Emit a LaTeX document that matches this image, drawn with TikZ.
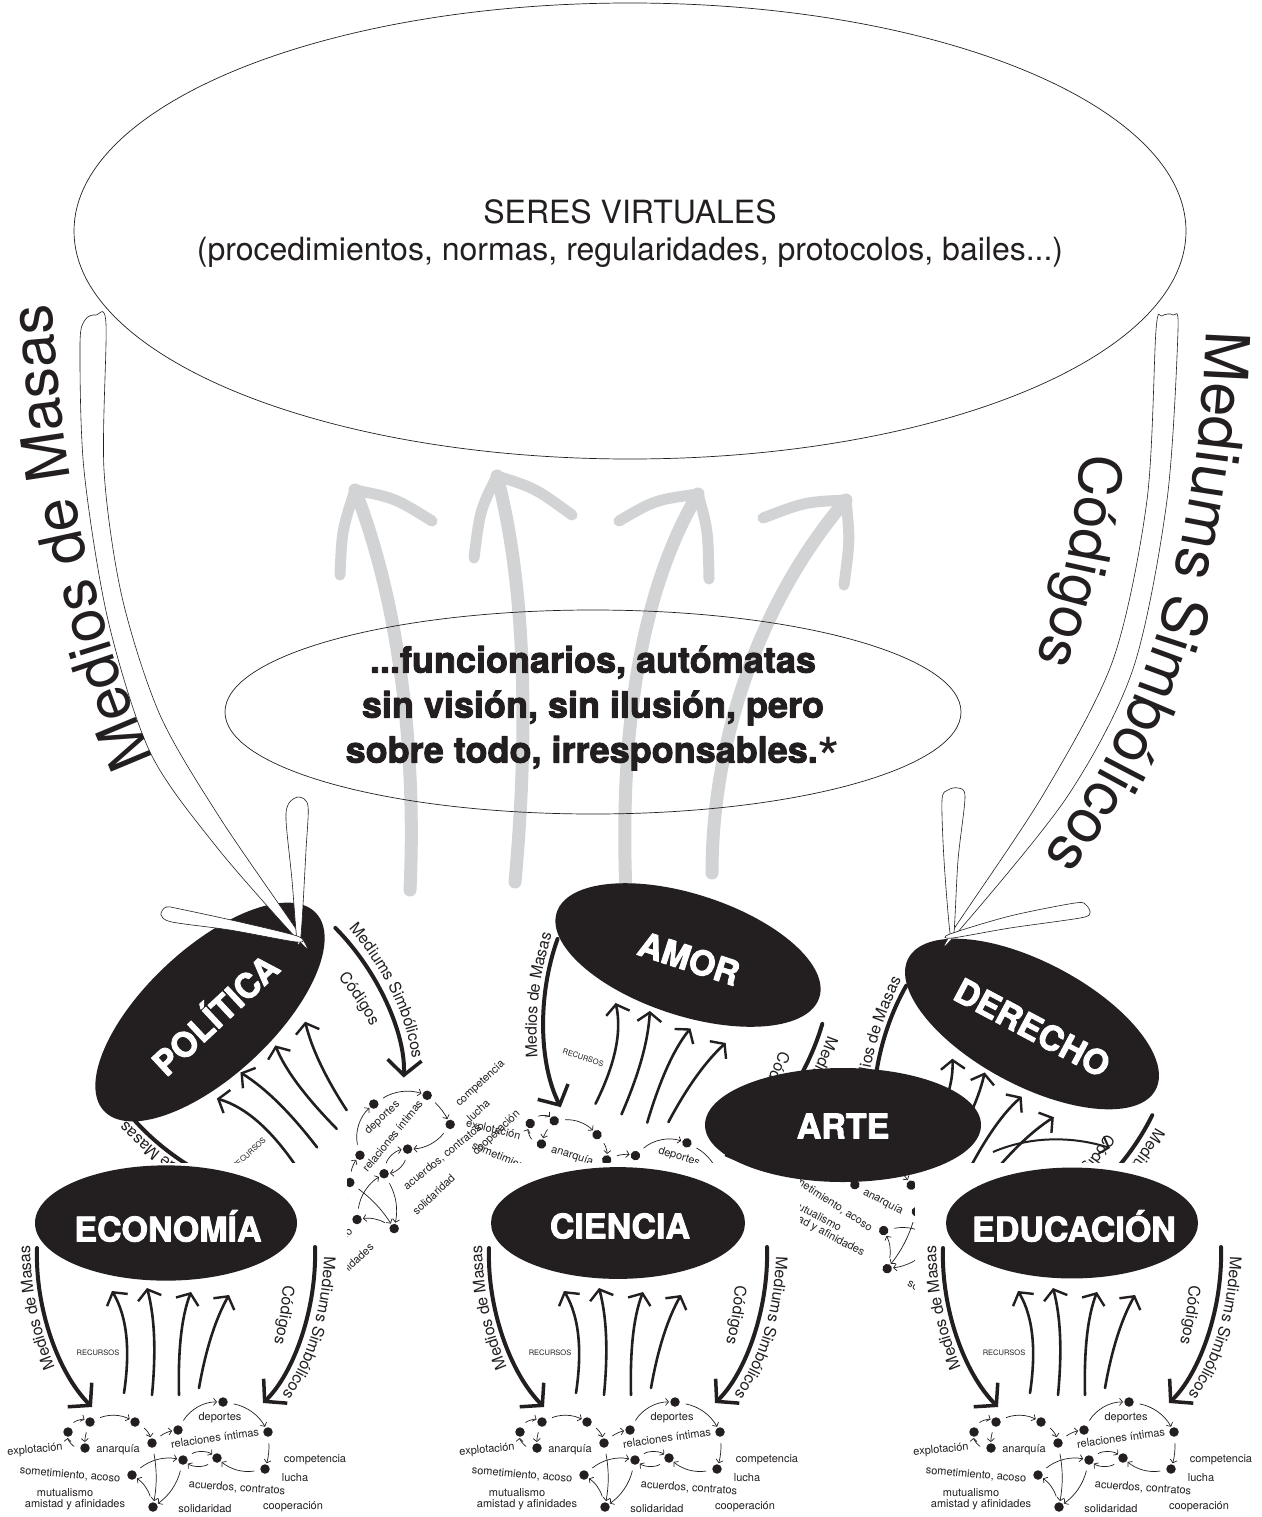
\documentclass[tikz,border=0pt]{standalone}
\usepackage{fontspec}
\setmainfont{TeX Gyre Heros}
\newfontfamily\negrita{texgyreheros-bold.otf}[FakeBold=2.5]
\usetikzlibrary{arrows.meta, decorations.text}

\definecolor{negro}{RGB}{35,31,32}
\definecolor{grisflecha}{RGB}{209,211,212}

\tikzset{
  punto/.style={circle, fill=negro, inner sep=0pt, minimum size=9.5pt},
  etiq/.style={font=\fontsize{11}{11}\selectfont, text=negro, inner sep=0pt},
  titulo/.style={font=\negrita\fontsize{34}{34}\selectfont, text=white, inner sep=0pt},
  flechita/.style={draw=negro, line width=0.7pt, -{Straight Barb[length=3pt,width=7pt]}, shorten >=6pt, shorten <=6pt},
  gruesa/.style={draw=negro, line width=4pt, line cap=round, -{Straight Barb[length=15pt,width=34pt,line width=3.5pt]}},
  subida/.style={draw=negro, line width=2.6pt, line cap=round, -{Straight Barb[length=9pt,width=24pt,line width=2.4pt]}},
  gris/.style={draw=grisflecha, line width=13pt, line cap=round},
  contorno/.style={draw=negro, fill=white, line width=0.6pt},
  sobre/.style 2 args={decorate, decoration={text along path, text align=center,
      text={|\fontsize{#1}{#1}\selectfont\color{negro}|#2}}},
  pics/modulo/.style n args={2}{code={
    \fill[negro] (0,0) ellipse [x radius=#2, y radius=0.44*#2];
    \node[titulo] (-nombre) at (2,3) {#1};
    % medios de masas y mediums
    \coordinate (-m1) at (-129,25); \coordinate (-m2) at (-74,184);
    \coordinate (-s1) at (149,24);  \coordinate (-s2) at (97,180);
    \draw[gruesa] (-m1) .. controls (-131,85) and (-108,150) .. (-m2);
    \draw[gruesa] (-s1) .. controls (151,85) and (128,150) .. (-s2);
    \path[sobre={16}{Medios de Masas}] (-104,160) .. controls (-128,110) and (-137,60) .. (-136,5);
    \path[sobre={16}{Mediums Simbólicos}] (158,18) .. controls (160,85) and (138,150) .. (106,184);
    \path[sobre={16}{Códigos}] (117,50) .. controls (117,85) and (112,110) .. (104,132);
    \node[font=\fontsize{7.5}{7.5}\selectfont, text=negro, inner sep=0pt] (-recursos) at (-68,130) {RECURSOS};
    % recursos hacia arriba
    \foreach \xa/\ya/\xb/\yb/\xc/\yc/\xd/\yd in {-42/170/-36/130/-38/95/-54/68, -14/172/-10/130/-11/95/-19/65, 13/172/12/130/15/95/25/69, 33/165/40/125/50/95/63/72}
      \draw[subida] (\xa,\ya) .. controls (\xb,\yb) and (\xc,\yc) .. (\xd,\yd);
    % relaciones
    \foreach \n/\x/\y in {1/-98/209, 2/-76/199, 3/-31/199, 4/-81/225, 5/-14/220, 6/12/207, 7/57/179, 8/102/209, 9/17/237, 10/51/235, 11/99/246, 12/-34/252, 13/-13/284}
      \node[punto] (-d\n) at (\x,\y) {};
    \draw[flechita] (-d1) to[bend left=40] (-d2);
    \draw[flechita] (-d2) to[bend left=25] (-d3);
    \draw[flechita] (-d2) to[bend right=10] (-d4);
    \draw[flechita] (-d4) to[bend left=40] (-d1);
    \draw[flechita] (-d3) to[bend left=20] (-d5);
    \draw[flechita] (-d5) to[bend left=15] (-d6);
    \draw[flechita] (-d6) to[bend left=30] (-d7);
    \draw[flechita] (-d7) to[bend left=25] (-d8);
    \draw[flechita] (-d8) to[bend left=10] (-d11);
    \draw[flechita] (-d11) to[bend left=25] (-d10);
    \draw[flechita] (-d9) to[bend left=35] (-d10);
    \draw[flechita] (-d10) to[bend left=35] (-d9);
    \draw[flechita] (-d12) to[bend left=25] (-d9);
    \draw[flechita] (-d5) to[bend left=10] (-d13);
    \draw[flechita] (-d9) to[bend left=20] (-d13);
    \draw[flechita] (-d13) to[bend right=20] (-d12);
    \node[etiq, rotate=5] (-explotacion) at (-131,227) {explotación};
    \node[etiq] (-anarquia) at (-48,227) {anarquía};
    \node[etiq] (-deportes) at (54,195) {deportes};
    \node[etiq, rotate=8] (-intimas) at (49,215) {relaciones íntimas};
    \node[etiq] (-competencia) at (149,237) {competencia};
    \node[etiq] (-lucha) at (129,255) {lucha};
    \node[etiq, rotate=-5] (-acoso) at (-96,252) {sometimiento, acoso};
    \node[etiq] (-mutualismo) at (-101,270) {mutualismo};
    \node[etiq] (-amistad) at (-91,282) {amistad y afinidades};
    \node[etiq, rotate=-4] (-acuerdos) at (71,265) {acuerdos, contratos};
    \node[etiq] (-solidaridad) at (39,286) {solidaridad};
    \node[etiq] (-cooperacion) at (127,284) {cooperación};
  }}
}

\begin{document}
\begin{tikzpicture}[x=1pt, y=-1pt, line join=round]
\useasboundingbox (0,0) rectangle (1261,1517);
\fill[white] (0,0) rectangle (1261,1517);

% seres virtuales
\draw[negro, line width=0.7pt] (630,231) ellipse [x radius=556, y radius=228];
\node[font=\fontsize{32}{37}\selectfont, text=negro, align=center] (seres) at (630,234)
  {SERES VIRTUALES\\(procedimientos, normas, regularidades, protocolos, bailes...)};

% flechas grises
\coordinate (g1a) at (410,890); \coordinate (g1b) at (355,490);
\coordinate (g2a) at (515,882); \coordinate (g2b) at (497,476);
\coordinate (g3a) at (626,893); \coordinate (g3b) at (698,494);
\coordinate (g4a) at (712,873); \coordinate (g4b) at (846,500);
\draw[gris] (g1a) .. controls (416,760) and (402,610) .. (g1b);
\draw[gris, line width=11pt] (340,575) .. controls (342,530) .. (g1b) .. controls (395,498) .. (432,521);
\draw[gris] (g2a) .. controls (528,740) and (527,590) .. (g2b);
\draw[gris, line width=11pt] (474,558) .. controls (480,510) .. (g2b) .. controls (535,488) .. (572,515);
\draw[gris] (g3a) .. controls (620,750) and (635,600) .. (g3b);
\draw[gris, line width=11pt] (619,521) .. controls (655,500) .. (g3b) .. controls (708,530) .. (709,579);
\draw[gris] (g4a) .. controls (712,740) and (760,600) .. (g4b);
\draw[gris, line width=11pt] (763,518) .. controls (805,502) .. (g4b) .. controls (850,540) .. (844,585);

% funcionarios
\draw[negro, line width=0.7pt] (593,712) ellipse [x radius=368, y radius=102];
\node[font=\negrita\fontsize{36}{45}\selectfont, text=negro, align=center] (funcionarios) at (593,708)
  {...funcionarios, autómatas\\sin visión, sin ilusión, pero\\sobre todo, irresponsables.\raisebox{-17pt}[0pt][0pt]{\normalfont\fontsize{58}{58}\selectfont*}};

% modulos de arriba
\pic[rotate=-18, transform shape] (amor) at (688,955) {modulo={AMOR}{138}};
\pic[rotate=-28, transform shape] (der) at (1032,1024) {modulo={DERECHO}{140}};
\pic[rotate=43, transform shape] (pol) at (210,1012) {modulo={POLÍTICA}{145}};
\coordinate (ax1) at (993,1152); \coordinate (ax2) at (1110,1148);
\draw[negro, line width=2pt, -{Straight Barb[length=8pt,width=18pt]}] (ax1) .. controls (1030,1136) and (1072,1136) .. (ax2);

% flechas grandes
\path[contorno] plot[smooth cycle] coordinates {(298,940) (215,845) (150,752) (108,620) (84,470) (80,345) (85,320) (96,315) (106,324) (104,470) (122,597) (160,715) (220,818) (300,935)};
\path[contorno] plot[smooth cycle] coordinates {(297,940) (292,880) (286,820) (289,803) (299,797) (308,806) (306,850) (301,935)};
\path[contorno] plot[smooth cycle] coordinates {(297,942) (230,930) (172,922) (161,915) (166,907) (180,909) (240,922) (297,936)};
\path[sobre={60}{Medios de Masas}] (168,790) .. controls (100,650) and (58,480) .. (50,270);

\path[contorno] plot[smooth cycle] coordinates {(952,932) (1043,795) (1113,660) (1147,500) (1156,330) (1162,316) (1173,315) (1178,330) (1167,500) (1133,669) (1067,797) (957,933)};
\path[contorno] plot[smooth cycle] coordinates {(950,933) (944,860) (942,800) (948,790) (958,788) (965,797) (958,860) (954,932)};
\path[contorno] plot[smooth cycle] coordinates {(950,934) (1010,916) (1075,903) (1086,905) (1090,913) (1080,918) (1010,928) (952,938)};
\path[sobre={61}{Mediums Simbólicos}] (1207,300) .. controls (1205,500) and (1160,720) .. (1025,880);
\path[sobre={58}{Códigos}] (1083,420) .. controls (1080,520) and (1062,610) .. (1022,690);

% modulos de abajo
\fill[white] (0,1163) rectangle (347,1517);
\pic (eco) at (166,1223) {modulo={ECONOMÍA}{131}};
\fill[white] (462,1163) rectangle (800,1517);
\pic (cie) at (618,1223) {modulo={CIENCIA}{127}};
\fill[white] (915,1163) rectangle (1261,1517);
\pic (edu) at (1072,1223) {modulo={EDUCACIÓN}{126}};

% arte
\fill[negro] (843,1125) ellipse [x radius=138, y radius=57];
\node[titulo] (arte) at (843,1126) {ARTE};
\end{tikzpicture}
\end{document}
